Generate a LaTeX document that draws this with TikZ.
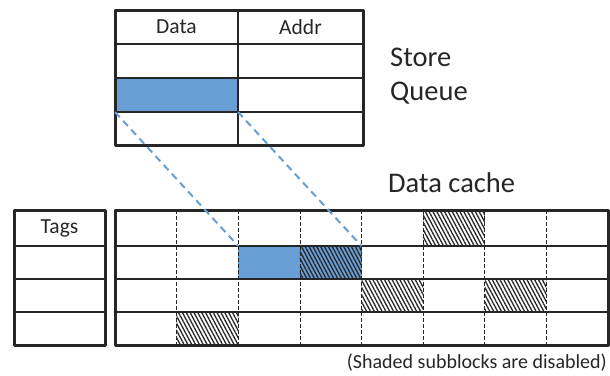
\documentclass[tikz,border=0pt]{standalone}
\usepackage{fontspec}
\setmainfont{Carlito}
\usetikzlibrary{patterns.meta}
\definecolor{ink}{RGB}{38,38,38}
\definecolor{sqblue}{RGB}{104,158,212}
\tikzset{
  frame/.style={draw=ink, line width=3pt, line join=round},
  rowline/.style={draw=ink, line width=2.2pt},
  subline/.style={draw=ink, line width=0.7pt, dash pattern=on 3.5pt off 2.5pt},
  hatched/.style={postaction={pattern={Lines[angle=-62, distance=3.4pt, line width=1.3pt]}, pattern color=ink}},
  cell/.style={inner sep=0pt, outer sep=0pt, anchor=north west, minimum width=#1, minimum height=33pt},
  hdr/.style={font=\fontsize{21.5}{24}\selectfont, text=ink},
  big/.style={font=\fontsize{28.5}{34}\selectfont, text=ink, anchor=base west, inner sep=0pt},
  link/.style={draw=sqblue, line width=2pt, dash pattern=on 7pt off 5pt}
}
\begin{document}
\begin{tikzpicture}[x=1pt, y=-1pt]
\useasboundingbox (0,0) rectangle (610,375);

% ---------- store queue ----------
\node[cell=123pt, minimum height=34pt, fill=sqblue] (sqdata) at (115,78) {};
\foreach \y in {44,78,112} \draw[rowline] (115,\y) -- (363,\y);
\draw[rowline] (238,10) -- (238,145);
\draw[frame] (115,10) rectangle (363,145);
\node[hdr] (hdata) at (176.5,27) {Data};
\node[hdr] (haddr) at (300.5,27) {Addr};
\node[big] (sqlabel) at (390,66) {Store};
\node[big] (sqlabel2) at (390,100) {Queue};

% ---------- tag array ----------
\foreach \y in {246,279,312} \draw[rowline] (14,\y) -- (105,\y);
\draw[frame] (14,210) rectangle (105,345);
\node[hdr] (htags) at (59.5,228) {Tags};

% ---------- data cache (8 subblocks per line) ----------
\def\cw{61.625}
% filled / disabled subblocks
\node[cell=\cw pt, minimum height=33pt, fill=sqblue] (dcnew) at (238.25,246) {};
\node[cell=\cw pt, minimum height=33pt, fill=sqblue, hatched] (dcold) at (299.875,246) {};
\node[cell=\cw pt, minimum height=36pt, hatched] (h1) at (423.125,210) {};
\node[cell=\cw pt, minimum height=33pt, hatched] (h2) at (361.5,279) {};
\node[cell=\cw pt, minimum height=33pt, hatched] (h3) at (484.75,279) {};
\node[cell=\cw pt, minimum height=33pt, hatched] (h4) at (176.625,312) {};
\foreach \i in {1,...,7} \draw[subline] (115+\i*\cw,210) -- (115+\i*\cw,345);
\foreach \y in {246,279,312} \draw[rowline] (115,\y) -- (608,\y);
\draw[frame] (115,210) rectangle (608,345);
\node[big, anchor=base west] (dclabel) at (388,192) {Data cache};

% ---------- store data moving into the cache ----------
\draw[link] (sqdata.south west) -- (dcnew.north west);
\draw[link] (sqdata.south east) -- (dcold.north east);

\node[font=\fontsize{20}{24}\selectfont, text=ink, anchor=base east, inner sep=0pt] (note) at (607,368) {(Shaded subblocks are disabled)};
\end{tikzpicture}
\end{document}
